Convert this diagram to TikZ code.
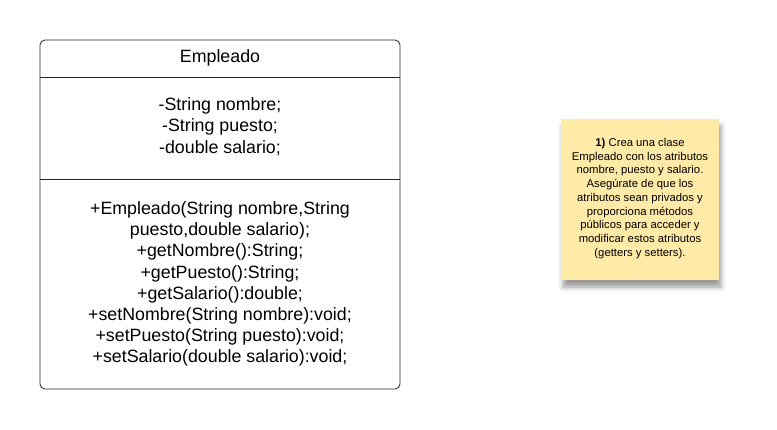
\documentclass[tikz,border=0pt]{standalone}
\usepackage{fontspec}
\setmainfont{Liberation Sans}
\usetikzlibrary{positioning,calc,shadows.blur}
\definecolor{notefill}{RGB}{255,234,167}
\tikzset{
  classbox/.style={draw=black!85,rounded corners=5pt,line width=0.8pt,minimum width=360pt,minimum height=349pt,inner sep=0},
  classtext/.style={align=center,inner sep=0,font=\fontsize{17.8}{21.2}\selectfont},
  notebox/.style={fill=notefill,minimum width=158pt,minimum height=161pt,inner sep=0,
    blur shadow={shadow xshift=2pt,shadow yshift=-7pt,shadow blur radius=5pt,shadow opacity=40}},
  notetext/.style={align=center,inner sep=0,font=\fontsize{11.3}{13.75}\selectfont}
}
\begin{document}
\begin{tikzpicture}[x=1pt,y=-1pt]
  \useasboundingbox (0,0) rectangle (777,430);
  % draw class box
  \node[classbox] (empleado) at (220,214.5) {};
  \coordinate (attrtop) at (220,77);
  \coordinate (methtop) at (220,179);
  \draw[draw=black!85,line width=0.8pt] (empleado.west |- attrtop) -- (empleado.east |- attrtop);
  \draw[draw=black!85,line width=0.8pt] (empleado.west |- methtop) -- (empleado.east |- methtop);
  \node[classtext] (classname) at (220,57.5) {Empleado};
  \node[classtext] (attrs) at (220,126.5) {-String nombre;\\-String puesto;\\-double salario;};
  \node[classtext] (methods) at (220,284) {+Empleado(String nombre,String\\puesto,double salario);\\+getNombre():String;\\+getPuesto():String;\\+getSalario():double;\\+setNombre(String nombre):void;\\+setPuesto(String puesto):void;\\+setSalario(double salario):void;};
  % draw sticky note
  \node[notebox] (note) at (640,199.5) {};
  \node[notetext] (notetxt) at (640,198.5) {\textbf{1)} Crea una clase\\Empleado con los atributos\\nombre, puesto y salario.\\Asegúrate de que los\\atributos sean privados y\\proporciona métodos\\públicos para acceder y\\modificar estos atributos\\(getters y setters).};
\end{tikzpicture}
\end{document}
